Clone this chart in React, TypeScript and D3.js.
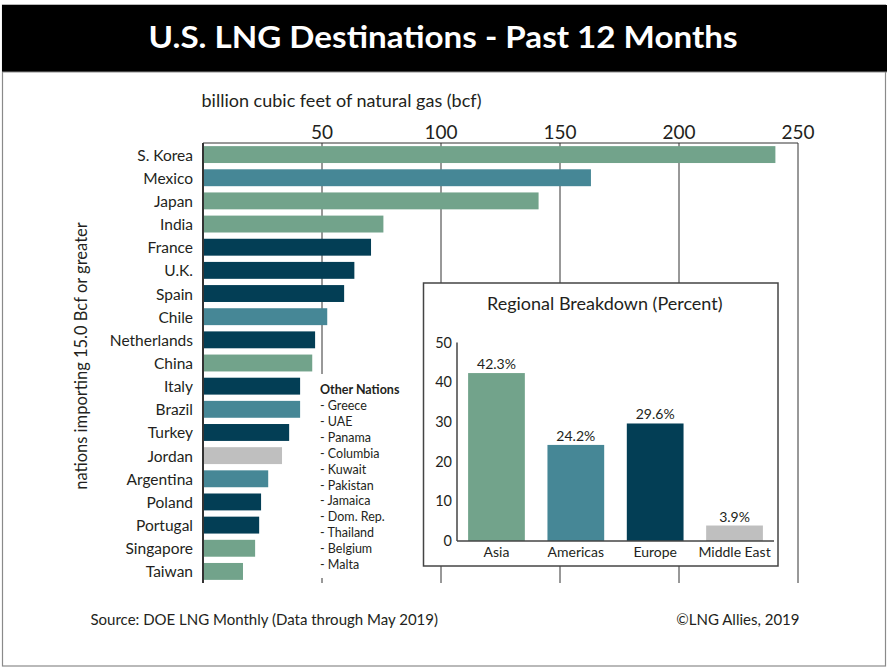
import React from 'react';
import * as d3 from 'd3';

// bcf imported over the past 12 months
const countries = ['S. Korea', 'Mexico', 'Japan', 'India', 'France', 'U.K.', 'Spain', 'Chile', 'Netherlands', 'China', 'Italy', 'Brazil', 'Turkey', 'Jordan', 'Argentina', 'Poland', 'Portugal', 'Singapore', 'Taiwan'];
const volumes = [240.5, 163, 141, 75.8, 70.6, 63.6, 59.3, 52.2, 47.1, 45.9, 40.8, 40.8, 36.2, 33.2, 27.4, 24.4, 23.6, 21.9, 16.8];
const countryRegion = ['Asia', 'Americas', 'Asia', 'Asia', 'Europe', 'Europe', 'Europe', 'Americas', 'Europe', 'Asia', 'Europe', 'Americas', 'Europe', 'Middle East', 'Americas', 'Europe', 'Europe', 'Asia', 'Asia'];
const xTicks = [50, 100, 150, 200, 250];

const regions = ['Asia', 'Americas', 'Europe', 'Middle East'];
const regionShares = [42.3, 24.2, 29.6, 3.9];
const shareTicks = [0, 10, 20, 30, 40, 50];

const otherNations = ['Greece', 'UAE', 'Panama', 'Columbia', 'Kuwait', 'Pakistan', 'Jamaica', 'Dom. Rep.', 'Thailand', 'Belgium', 'Malta'];

const regionColors = ['#72a38b', '#468796', '#033e55', '#bfbfbf'];

const W = 887;
const H = 668;
const FONT = 'Lato, "Open Sans", sans-serif';
const INK = '#231f20';

const App = () => {
  const color = d3.scaleOrdinal<string, string>().domain(regions).range(regionColors);

  // main bar chart
  const plot = { left: 203, right: 798, top: 143, bottom: 583 };
  const x = d3.scaleLinear().domain([0, 250]).range([plot.left, plot.right]);
  const y = d3.scaleBand().domain(countries).range([plot.top, plot.bottom]).paddingInner(0.27).paddingOuter(0.135);

  // inset
  const box = { x: 423.5, y: 283, w: 354.5, h: 283 };
  const ix = d3.scaleBand().domain(regions).range([457, 774]).paddingInner(0.285).paddingOuter(0.14);
  const iy = d3.scaleLinear().domain([0, 50]).range([541, 342.5]);

  return (
    <svg width={W} height={H} style={{ position: 'absolute', left: 0, top: 0 }} fontFamily={FONT}>
      <rect x={0} y={0} width={W} height={H} fill="#fff" />
      {/* frame and header */}
      <rect x={2.5} y={5} width={883} height={661} fill="none" stroke="#8a8a8a" strokeWidth={1.2} />
      <rect x={2} y={5} width={W - 2} height={67} fill="#000" />
      <line x1={2} x2={W} y1={72} y2={72} stroke="#8a8a8a" strokeWidth={1.2} />
      <text x={443} y={48} textAnchor="middle" fill="#fff" fontSize={30} fontWeight={700} textLength={589} lengthAdjust="spacingAndGlyphs">
        U.S. LNG Destinations - Past 12 Months
      </text>

      <text x={201.5} y={107} fontSize={16.5} fill={INK} textLength={280} lengthAdjust="spacingAndGlyphs">
        billion cubic feet of natural gas (bcf)
      </text>

      {/* grid */}
      {xTicks.map((t) => (
        <g key={t}>
          <line x1={x(t)} x2={x(t)} y1={plot.top} y2={plot.bottom} stroke="#333" strokeWidth={1} />
          <text x={x(t)} y={138.5} textAnchor="middle" fontSize={19} fill={INK}>{t}</text>
        </g>
      ))}
      <line x1={plot.left} x2={plot.right} y1={plot.top} y2={plot.top} stroke="#333" strokeWidth={1} />

      {/* bars */}
      {countries.map((c, i) => (
        <g key={c}>
          <rect x={x(0)} y={y(c)} width={x(volumes[i]) - x(0)} height={y.bandwidth()} fill={color(countryRegion[i])} />
          <text x={193} y={(y(c) ?? 0) + y.bandwidth() / 2 + 6} textAnchor="end" fontSize={15.5} fill={INK}>{c}</text>
        </g>
      ))}
      <line x1={plot.left} x2={plot.left} y1={plot.top} y2={plot.bottom} stroke="#333" strokeWidth={2} />

      <text transform={`translate(87,356) rotate(-90)`} textAnchor="middle" fontSize={16.5} fill={INK}>
        nations importing 15.0 Bcf or greater
      </text>

      {/* other nations */}
      <rect x={316} y={374} width={92} height={204} fill="#fff" />
      <text x={320} y={393.5} fontSize={12.5} fontWeight={700} fill={INK}>Other Nations</text>
      {otherNations.map((n, i) => (
        <text key={n} x={320} y={410 + i * 15.9} fontSize={12.5} fill={INK}>- {n}</text>
      ))}

      {/* regional inset */}
      <rect x={box.x} y={box.y} width={box.w} height={box.h} fill="#fff" stroke="#444" strokeWidth={1.5} />
      <text x={box.x + box.w / 2 + 4} y={310} textAnchor="middle" fontSize={18} fill={INK}>Regional Breakdown (Percent)</text>
      {shareTicks.map((t) => (
        <text key={t} x={452} y={iy(t) + 5} textAnchor="end" fontSize={14.5} fill={INK}>{t}</text>
      ))}
      {regions.map((r, i) => (
        <g key={r}>
          <rect x={ix(r)} y={iy(regionShares[i])} width={ix.bandwidth()} height={iy(0) - iy(regionShares[i])} fill={color(r)} />
          <text x={(ix(r) ?? 0) + ix.bandwidth() / 2} y={iy(regionShares[i]) - 4} textAnchor="middle" fontSize={14} fill={INK}>
            {regionShares[i].toFixed(1)}%
          </text>
          <text x={(ix(r) ?? 0) + ix.bandwidth() / 2} y={556.5} textAnchor="middle" fontSize={14} fill={INK}>{r}</text>
        </g>
      ))}
      <line x1={457} x2={457} y1={iy(50)} y2={iy(0)} stroke="#444" strokeWidth={1.5} />
      <line x1={457} x2={774} y1={iy(0)} y2={iy(0)} stroke="#444" strokeWidth={1.5} />

      {/* footer */}
      <text x={90.5} y={625} fontSize={15} fill={INK}>Source: DOE LNG Monthly (Data through May 2019)</text>
      <text x={799.5} y={625} textAnchor="end" fontSize={15} fill={INK}>©LNG Allies, 2019</text>
    </svg>
  );
};

export default App;
